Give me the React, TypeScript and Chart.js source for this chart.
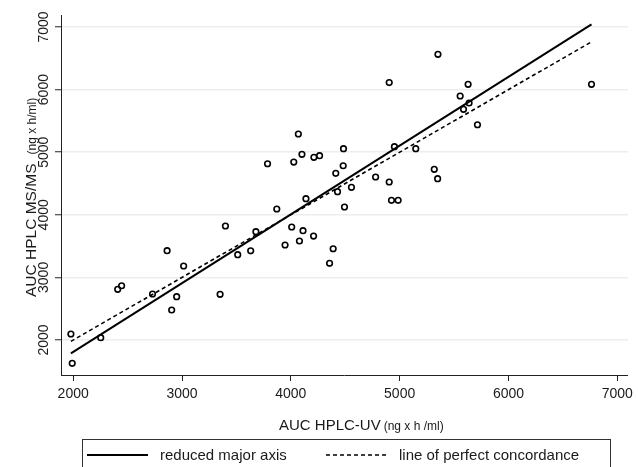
import React, { useEffect, useRef } from "react";
import { Chart, registerables } from "chart.js";

Chart.register(...registerables);

// AUC HPLC-UV (x) vs AUC HPLC MS/MS (y), ng x h/ml
const uvAuc = [
  1979, 1991, 2253, 2409, 2445, 2729, 2863, 2905, 2951, 3015, 3350, 3512, 3631,
  4069, 3786, 4027, 4102, 4212, 4264, 4484, 4481, 4413, 4557, 4429, 4779, 4139,
  4493, 3871, 3399, 4008, 3679, 4112, 4209, 3947, 4079, 4389, 4356,
  5352, 4904, 5629, 5556, 5638, 5587, 5715, 4952, 5148, 4904, 5318, 5349, 4925,
  4986, 6763,
];
const msAuc = [
  2096, 1628, 2037, 2810, 2867, 2735, 3427, 2479, 2692, 3182, 2730, 3363, 3425,
  5291, 4816, 4843, 4966, 4918, 4944, 5056, 4784, 4663, 4439, 4369, 4604, 4257,
  4125, 4093, 3821, 3805, 3730, 3746, 3661, 3518, 3582, 3458, 3225,
  6564, 6112, 6085, 5898, 5786, 5685, 5439, 5088, 5056, 4524, 4727, 4577, 4231,
  4231, 6085,
];

// reduced major axis fit line (end points)
const rmaX = [1979, 6763];
const rmaY = [1787, 7043];
// line of perfect concordance (y = x)
const concordX = [1979, 6763];
const concordY = [1979, 6763];

const xTicks = [2000, 3000, 4000, 5000, 6000, 7000];
const yTicks = [2000, 3000, 4000, 5000, 6000, 7000];

const xTitle = "AUC HPLC-UV";
const xTitleUnit = "(ng x h /ml)";
const yTitle = "AUC HPLC MS/MS";
const yTitleUnit = "(ng x h/ml)";
const legendLabels = ["reduced major axis", "line of perfect concordance"];

const FONT = "'Liberation Sans', Arial, sans-serif";
const INK = "#1a1a1a";

const decorPlugin = {
  id: "decor",
  afterDraw(chart: any) {
    const ctx = chart.ctx as CanvasRenderingContext2D;
    const yScale = chart.scales.y;
    ctx.save();
    ctx.fillStyle = INK;

    // rotated y tick labels
    ctx.font = `14px ${FONT}`;
    ctx.textAlign = "center";
    ctx.textBaseline = "alphabetic";
    yScale.ticks.forEach((t: any) => {
      const py = yScale.getPixelForValue(t.value);
      ctx.save();
      ctx.translate(48, py);
      ctx.rotate(-Math.PI / 2);
      ctx.fillText(String(t.value), 0, 0);
      ctx.restore();
    });

    // x axis title
    ctx.textAlign = "left";
    ctx.font = `15px ${FONT}`;
    const xw = ctx.measureText(xTitle).width;
    ctx.fillText(xTitle, 279, 430);
    ctx.font = `12px ${FONT}`;
    ctx.fillText(xTitleUnit, 279 + xw + 3, 430);

    // y axis title
    ctx.save();
    ctx.translate(36, 297);
    ctx.rotate(-Math.PI / 2);
    ctx.font = `15.5px ${FONT}`;
    const yw = ctx.measureText(yTitle).width;
    ctx.fillText(yTitle, 0, 0);
    ctx.font = `12px ${FONT}`;
    ctx.fillText(yTitleUnit, yw + 9, 0);
    ctx.restore();

    // legend box
    ctx.strokeStyle = "#333";
    ctx.lineWidth = 1;
    ctx.strokeRect(82.5, 439.5, 528, 60);

    ctx.strokeStyle = "#000";
    ctx.lineWidth = 2;
    ctx.beginPath();
    ctx.moveTo(87, 455);
    ctx.lineTo(148, 455);
    ctx.stroke();

    ctx.lineWidth = 1.6;
    ctx.setLineDash([4, 3]);
    ctx.beginPath();
    ctx.moveTo(326, 455);
    ctx.lineTo(388, 455);
    ctx.stroke();
    ctx.setLineDash([]);

    ctx.font = `15px ${FONT}`;
    ctx.fillStyle = INK;
    ctx.fillText(legendLabels[0], 160, 460);
    ctx.fillText(legendLabels[1], 399, 460);

    ctx.restore();
  },
};

export default function App() {
  const canvasRef = useRef<HTMLCanvasElement>(null);

  useEffect(() => {
    if (!canvasRef.current) return;
    const points = uvAuc.map((x, i) => ({ x, y: msAuc[i] }));
    const rma = rmaX.map((x, i) => ({ x, y: rmaY[i] }));
    const concord = concordX.map((x, i) => ({ x, y: concordY[i] }));

    const chart = new Chart(canvasRef.current, {
      type: "scatter",
      data: {
        datasets: [
          {
            label: "observations",
            data: points,
            pointStyle: "circle",
            pointRadius: 2.8,
            pointBorderWidth: 1.6,
            borderColor: "#000",
            backgroundColor: "rgba(255,255,255,0)",
            showLine: false,
          },
          {
            label: legendLabels[0],
            data: rma,
            showLine: true,
            borderColor: "#000",
            borderWidth: 2,
            pointRadius: 0,
          },
          {
            label: legendLabels[1],
            data: concord,
            showLine: true,
            borderColor: "#000",
            borderWidth: 1.6,
            borderDash: [4, 3],
            pointRadius: 0,
          },
        ],
      },
      options: {
        responsive: false,
        animation: false,
        devicePixelRatio: 1,
        layout: { padding: { left: 0, top: 15, right: 7, bottom: 0 } },
        plugins: {
          legend: { display: false },
          tooltip: { enabled: false },
          title: { display: false },
        },
        scales: {
          x: {
            type: "linear",
            min: 1888,
            max: 7098,
            afterBuildTicks: (s: any) => {
              s.ticks = xTicks.map((v) => ({ value: v }));
            },
            afterFit: (s: any) => {
              s.height = 92;
            },
            ticks: {
              font: { family: FONT, size: 14 },
              color: INK,
              padding: 5,
              maxRotation: 0,
              minRotation: 0,
              callback: (v: any) => String(v),
            },
            grid: {
              display: true,
              drawOnChartArea: false,
              drawTicks: true,
              tickLength: 6,
              tickColor: "#222",
              tickWidth: 1,
            },
            border: { display: true, color: "#222", width: 1 },
          },
          y: {
            type: "linear",
            min: 1441,
            max: 7192,
            afterBuildTicks: (s: any) => {
              s.ticks = yTicks.map((v) => ({ value: v }));
            },
            afterFit: (s: any) => {
              s.width = 61;
            },
            ticks: { display: false },
            grid: {
              display: true,
              drawOnChartArea: true,
              color: "#e9eef2",
              lineWidth: 1.5,
              drawTicks: true,
              tickLength: 6,
              tickColor: "#222",
              tickWidth: 1,
            },
            border: { display: true, color: "#222", width: 1 },
          },
        },
      },
      plugins: [decorPlugin],
    });
    return () => chart.destroy();
  }, []);

  return (
    <div style={{ position: "fixed", left: 0, top: 0, width: 638, height: 467, background: "#fff" }}>
      <canvas ref={canvasRef} width={638} height={467} style={{ display: "block" }} />
    </div>
  );
}
